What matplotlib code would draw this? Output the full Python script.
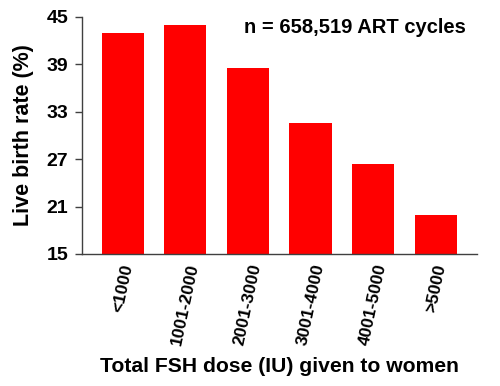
import matplotlib
matplotlib.use("Agg")
import matplotlib.pyplot as plt

categories = ["<1000", "1001-2000", "2001-3000", "3001-4000", "4001-5000", ">5000"]
live_birth_rate = [42.9, 43.9, 38.5, 31.6, 26.4, 19.9]
yticks = [15, 21, 27, 33, 39, 45]

plt.rcParams['font.family'] = ['Liberation Sans', 'DejaVu Sans']
plt.rcParams['font.weight'] = 'bold'

fig = plt.figure(figsize=(5.0, 3.86), dpi=100)
ax = fig.add_axes([0.164, 0.342, 0.789, 0.615])

x = list(range(len(categories)))
ax.bar(x, live_birth_rate, width=0.675, color='#FF0000', bottom=0)
ax.set_ylim(15, 45)
ax.set_xlim(-0.65, len(categories) - 1 + 0.65)
ax.set_yticks(yticks)
ax.set_yticklabels([str(v) for v in yticks], fontsize=14, fontweight='bold')
ax.set_xticks(x)
ax.set_xticklabels(categories, rotation=78, fontsize=12.5, fontweight='bold',
                   ha='center', va='top')

for s in ['top', 'right']:
    ax.spines[s].set_visible(False)
for s in ['left', 'bottom']:
    ax.spines[s].set_color('#404040')
    ax.spines[s].set_linewidth(1.0)

ax.tick_params(axis='y', length=5, width=1, color='#404040', pad=5)
ax.tick_params(axis='x', length=0, pad=6)

ax.set_ylabel("Live birth rate (%)", fontsize=15.5, fontweight='bold')
ax.yaxis.set_label_coords(-0.122, 0.5)
fig.text(0.558, 0.05, "Total FSH dose (IU) given to women", fontsize=15.2,
         fontweight='bold', ha='center', va='center')
ax.text(0.972, 0.955, "n = 658,519 ART cycles", transform=ax.transAxes,
        fontsize=14.5, fontweight='bold', ha='right', va='center')

fig.savefig("out.png", dpi=100)
